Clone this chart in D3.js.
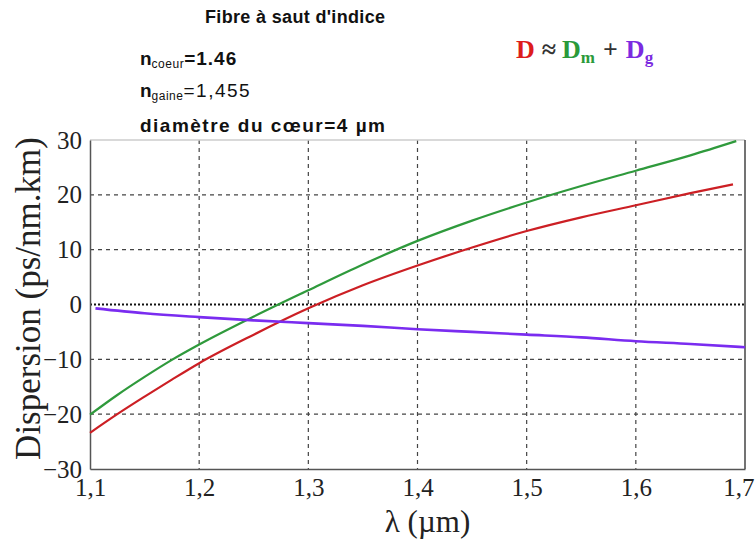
<!DOCTYPE html>
<html>
<head>
<meta charset="utf-8">
<script src="https://cdn.jsdelivr.net/npm/d3@7/dist/d3.min.js"></script>
<style>
  html, body { margin: 0; padding: 0; background: #fff; }
  svg { display: block; }
</style>
</head>
<body>
<svg id="chart" width="756" height="544"></svg>
<script>
// Wavelength samples (µm) and dispersion values (ps/nm.km)
const lambdaD  = [1.1, 1.125, 1.15, 1.175, 1.2, 1.25, 1.3, 1.35, 1.4, 1.45, 1.5, 1.55, 1.6, 1.65, 1.689];
const totalD   = [-23.4, -20.0, -16.8, -13.7, -10.7, -5.5, -0.7, 3.5, 7.1, 10.4, 13.4, 15.9, 18.1, 20.3, 21.9];

const lambdaDm = [1.1, 1.125, 1.15, 1.175, 1.2, 1.25, 1.3, 1.35, 1.4, 1.45, 1.5, 1.55, 1.6, 1.65, 1.692];
const materialD = [-20.1, -16.5, -13.2, -10.1, -7.3, -2.2, 2.6, 7.3, 11.6, 15.3, 18.6, 21.6, 24.4, 27.2, 29.8];

const lambdaDg = [1.105, 1.15, 1.2, 1.25, 1.3, 1.35, 1.4, 1.45, 1.5, 1.55, 1.6, 1.65, 1.7];
const guideD   = [-0.7, -1.6, -2.3, -2.9, -3.4, -3.9, -4.5, -5.0, -5.5, -6.0, -6.7, -7.2, -7.8];

const xTicks = [1.1, 1.2, 1.3, 1.4, 1.5, 1.6, 1.7];
const yTicks = [-30, -20, -10, 0, 10, 20, 30];

const svg = d3.select("#chart");
const margin = { top: 140, right: 11, bottom: 75, left: 90 };
const W = 756, H = 544;
const iw = W - margin.left - margin.right;
const ih = H - margin.top - margin.bottom;

const x = d3.scaleLinear().domain([1.1, 1.7]).range([margin.left, margin.left + iw]);
const y = d3.scaleLinear().domain([-30, 30]).range([margin.top + ih, margin.top]);

const serif = "'Liberation Serif', 'Times New Roman', serif";
const sans = "'Liberation Sans', Arial, sans-serif";

// Grid lines
const grid = svg.append("g");
grid.selectAll("line.v").data(xTicks.slice(1, -1)).join("line")
  .attr("x1", d => x(d)).attr("x2", d => x(d))
  .attr("y1", margin.top).attr("y2", margin.top + ih)
  .attr("stroke", "#444").attr("stroke-width", 1.2).attr("stroke-dasharray", "4,4");
grid.selectAll("line.h").data(yTicks.filter(d => d !== 0 && Math.abs(d) !== 30)).join("line")
  .attr("x1", margin.left).attr("x2", margin.left + iw)
  .attr("y1", d => y(d)).attr("y2", d => y(d))
  .attr("stroke", "#444").attr("stroke-width", 1.2).attr("stroke-dasharray", "4,4");
// Zero line, dotted
grid.append("line")
  .attr("x1", margin.left).attr("x2", margin.left + iw)
  .attr("y1", y(0)).attr("y2", y(0))
  .attr("stroke", "#111").attr("stroke-width", 2).attr("stroke-dasharray", "2,2");

// Frame
svg.append("line").attr("x1", margin.left).attr("x2", margin.left + iw)
  .attr("y1", margin.top).attr("y2", margin.top).attr("stroke", "#ccc").attr("stroke-width", 1.5);
svg.append("line").attr("x1", margin.left + iw).attr("x2", margin.left + iw)
  .attr("y1", margin.top).attr("y2", margin.top + ih).attr("stroke", "#444").attr("stroke-width", 1.5);

// Axes
const xAxis = svg.append("g").attr("transform", `translate(0,${margin.top + ih})`)
  .call(d3.axisBottom(x).tickValues(xTicks).tickSize(0).tickPadding(9)
    .tickFormat(d => d3.format(".1f")(d).replace(".", ",")));
const yAxis = svg.append("g").attr("transform", `translate(${margin.left},0)`)
  .call(d3.axisLeft(y).tickValues(yTicks).tickSize(0).tickPadding(8));
[xAxis, yAxis].forEach(a => {
  a.select(".domain").attr("stroke", "#555").attr("stroke-width", 1.5);
  a.selectAll("text").attr("font-family", serif).attr("font-size", 25).attr("fill", "#222");
});
// keep the last wavelength label inside the page
xAxis.selectAll(".tick").filter(d => d === 1.7).select("text")
  .attr("text-anchor", "end").attr("x", 9);

// Curves
const line = d3.line().x(d => x(d[0])).y(d => y(d[1])).curve(d3.curveMonotoneX);
const series = [
  { xs: lambdaDm, ys: materialD, color: "#2f9a3c", w: 2.2 },
  { xs: lambdaD,  ys: totalD,    color: "#cc1f24", w: 2.2 },
  { xs: lambdaDg, ys: guideD,    color: "#7a2cf0", w: 2.6 }
];
svg.selectAll("path.curve").data(series).join("path")
  .attr("class", "curve")
  .attr("d", s => line(d3.zip(s.xs, s.ys)))
  .attr("fill", "none").attr("stroke", s => s.color).attr("stroke-width", s => s.w);

// Axis titles
svg.append("text")
  .attr("transform", `translate(40,${margin.top + ih / 2 - 6}) rotate(-90)`)
  .attr("text-anchor", "middle").attr("font-family", serif).attr("font-size", 35).attr("fill", "#222")
  .text("Dispersion (ps/nm.km)");
svg.append("text")
  .attr("x", x(1.4) + 10).attr("y", 532)
  .attr("text-anchor", "middle").attr("font-family", serif).attr("font-size", 31).attr("fill", "#222")
  .text("λ (µm)");

// Fibre parameters
const info = svg.append("g").attr("font-family", sans).attr("fill", "#111");
info.append("text").attr("x", 205).attr("y", 23).attr("font-size", 18).attr("font-weight", "bold")
  .attr("textLength", 180).text("Fibre à saut d'indice");
const n1 = info.append("text").attr("x", 140).attr("y", 65).attr("font-size", 19).attr("font-weight", "bold");
n1.append("tspan").text("n");
n1.append("tspan").attr("font-size", 12).attr("font-weight", "normal").attr("dy", 3).attr("letter-spacing", 0.5).text("coeur");
n1.append("tspan").attr("dy", -3).attr("letter-spacing", 1).text("=1.46");
const n2 = info.append("text").attr("x", 140).attr("y", 97).attr("font-size", 19);
n2.append("tspan").attr("font-weight", "bold").text("n");
n2.append("tspan").attr("font-size", 12).attr("dy", 3).attr("letter-spacing", 0.5).text("gaine");
n2.append("tspan").attr("dy", -3).attr("letter-spacing", 1.5).text("=1,455");
info.append("text").attr("x", 140).attr("y", 132).attr("font-size", 19).attr("font-weight", "bold")
  .attr("textLength", 245).text("diamètre du cœur=4 µm");

// Relation between the three dispersions
const f = svg.append("text").attr("x", 516).attr("y", 58)
  .attr("font-family", serif).attr("font-size", 26).attr("font-weight", "bold");
f.append("tspan").attr("fill", "#dd1c1c").text("D");
f.append("tspan").attr("fill", "#333").attr("dx", 7).text("≈");
f.append("tspan").attr("fill", "#2a9a3a").attr("dx", 6).text("D");
f.append("tspan").attr("fill", "#2a9a3a").attr("font-size", 17).attr("dy", 5).text("m");
f.append("tspan").attr("fill", "#333").attr("dx", 8).attr("dy", -5).text("+");
f.append("tspan").attr("fill", "#7b2be0").attr("dx", 8).text("D");
f.append("tspan").attr("fill", "#7b2be0").attr("font-size", 17).attr("dy", 5).text("g");
</script>
</body>
</html>
